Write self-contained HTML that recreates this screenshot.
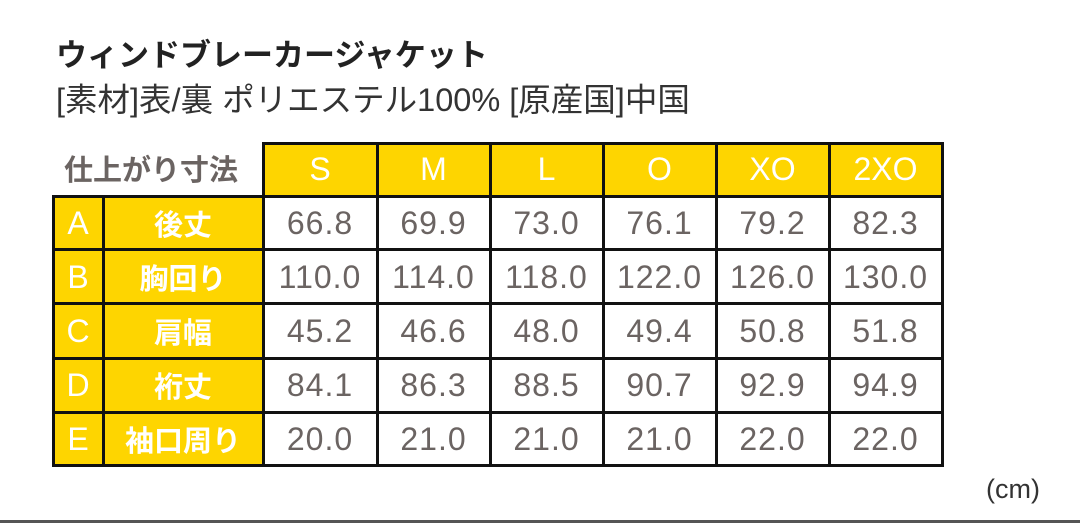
<!DOCTYPE html>
<html><head><meta charset="utf-8"><style>
body{margin:0;width:1080px;height:525px;background:#fff;position:relative;overflow:hidden;font-family:"Liberation Sans","Noto Sans CJK JP",sans-serif}
.a{position:absolute;white-space:nowrap}
.y{position:absolute;background:#fed500}
.h{position:absolute;background:#111;height:3px}
.v{position:absolute;background:#111;width:3px}
.t{position:absolute;display:flex;align-items:center;justify-content:center;font-size:32px;letter-spacing:1px;color:#6b6462}
.w{color:#fff;letter-spacing:0}
.j{color:#fff;font-weight:bold;font-size:29px;letter-spacing:0}
</style></head><body>
<div class="a" style="left:56px;top:30px;font-size:31px;font-weight:bold;color:#222">ウィンドブレーカージャケット</div>
<div class="a" style="left:56px;top:74px;font-size:32.5px;color:#333">[素材]表/裏 ポリエステル100% [原産国]中国</div>
<div class="a" style="left:64px;top:147px;font-size:29px;font-weight:bold;color:#6b6462">仕上がり寸法</div>
<div class="y" style="left:263px;top:143px;width:679px;height:53px"></div>
<div class="y" style="left:53px;top:196px;width:210px;height:270px"></div>
<div class="h" style="left:262px;top:142px;width:682px"></div>
<div class="h" style="left:52px;top:195px;width:892px"></div>
<div class="h" style="left:52px;top:248px;width:892px"></div>
<div class="h" style="left:52px;top:302px;width:892px"></div>
<div class="h" style="left:52px;top:357px;width:892px"></div>
<div class="h" style="left:52px;top:411px;width:892px"></div>
<div class="h" style="left:52px;top:464px;width:892px"></div>
<div class="v" style="left:52px;top:195px;height:272px"></div>
<div class="v" style="left:102px;top:195px;height:272px"></div>
<div class="v" style="left:262px;top:142px;height:325px"></div>
<div class="v" style="left:376px;top:142px;height:325px"></div>
<div class="v" style="left:489px;top:142px;height:325px"></div>
<div class="v" style="left:602px;top:142px;height:325px"></div>
<div class="v" style="left:715px;top:142px;height:325px"></div>
<div class="v" style="left:828px;top:142px;height:325px"></div>
<div class="v" style="left:941px;top:142px;height:325px"></div>
<div id="g"></div>
<div class="a" style="left:986px;top:474px;font-size:27px;color:#333">(cm)</div>
<div class="a" style="left:0;top:520px;width:1080px;height:3px;background:#555"></div>
<script>
var xs=[53,103,263,377,490,603,716,829,942],ys=[143,196,250,304,358,412,466];
var hd=["S","M","L","O","XO","2XO"];
var rows=[["A","後丈","66.8","69.9","73.0","76.1","79.2","82.3"],["B","胸回り","110.0","114.0","118.0","122.0","126.0","130.0"],["C","肩幅","45.2","46.6","48.0","49.4","50.8","51.8"],["D","裄丈","84.1","86.3","88.5","90.7","92.9","94.9"],["E","袖口周り","20.0","21.0","21.0","21.0","22.0","22.0"]];
var h="";
function c(x1,x2,y1,y2,s,cl){h+='<div class="t '+cl+'" style="left:'+x1+'px;top:'+y1+'px;width:'+(x2-x1)+'px;height:'+(y2-y1)+'px">'+s+'</div>';}
hd.forEach(function(s,i){c(xs[i+2],xs[i+3],ys[0],ys[1],s,"w");});
rows.forEach(function(r,j){r.forEach(function(s,i){c(xs[i],xs[i+1],ys[j+1],ys[j+2],s,i==0?"w":(i==1?"j":""));});});
document.getElementById("g").innerHTML=h;
</script>
</body></html>
